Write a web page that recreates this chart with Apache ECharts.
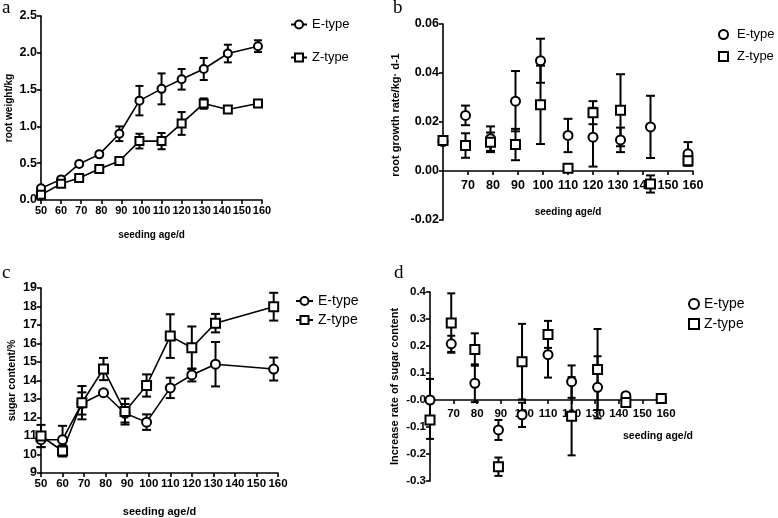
<!DOCTYPE html>
<html>
<head>
<meta charset="utf-8">
<script src="https://cdn.jsdelivr.net/npm/echarts@6/dist/echarts.min.js"></script>
<style>
html,body{margin:0;padding:0;background:#fff;}
#chart{width:778px;height:518px;}
</style>
</head>
<body>
<div id="chart"></div>
<script>
// ---- data ----
var daysA = [50, 60, 69, 79, 89, 99, 110, 120, 131, 143, 158];
var rootWeightE = [0.16, 0.28, 0.49, 0.62, 0.90, 1.35, 1.51, 1.64, 1.78, 1.99, 2.09];
var rootWeightEerr = [0.03, 0.03, 0.03, 0.03, 0.10, 0.20, 0.21, 0.14, 0.15, 0.12, 0.08];
var rootWeightZ = [0.07, 0.22, 0.30, 0.42, 0.53, 0.80, 0.80, 1.04, 1.31, 1.23, 1.31];
var rootWeightZerr = [0.03, 0.03, 0.03, 0.03, 0.03, 0.10, 0.11, 0.155, 0.07, 0.03, 0.03];

var daysB = [60, 69, 79, 89, 99, 110, 120, 131, 143, 158];
var growthE = [0.0120, 0.0227, 0.0132, 0.0285, 0.0450, 0.0145, 0.0138, 0.0127, 0.0180, 0.0070];
var growthEerr = [0.0010, 0.0040, 0.0050, 0.0123, 0.0090, 0.0068, 0.0120, 0.0050, 0.0127, 0.0048];
var growthZ = [0.0125, 0.0104, 0.0117, 0.0108, 0.0270, 0.0011, 0.0238, 0.0248, -0.0053, 0.0042];
var growthZerr = [0.0010, 0.0050, 0.0040, 0.0064, 0.0160, 0.0010, 0.0047, 0.0147, 0.0035, 0.0020];

var daysC = [50, 60, 69, 79, 89, 99, 110, 120, 131, 158];
var sugarE = [10.80, 10.80, 12.76, 13.34, 12.23, 11.75, 13.60, 14.30, 14.88, 14.62];
var sugarEerr = [0.40, 0.75, 0.60, 0.10, 0.50, 0.42, 0.55, 0.35, 1.20, 0.62];
var sugarZ = [11.00, 10.19, 12.80, 14.62, 12.32, 13.73, 16.40, 15.77, 17.10, 17.99];
var sugarZerr = [0.60, 0.30, 0.90, 0.60, 0.70, 0.60, 1.18, 1.15, 0.50, 0.75];

var daysD = [60, 69, 79, 89, 99, 110, 120, 131, 143, 158];
var rateE = [0.000, 0.208, 0.062, -0.111, -0.055, 0.168, 0.068, 0.047, 0.016, 0.006];
var rateEerr = [0.078, 0.030, 0.070, 0.037, 0.045, 0.085, 0.060, 0.115, 0.010, 0.005];
var rateZ = [-0.074, 0.285, 0.187, -0.247, 0.142, 0.243, -0.060, 0.113, -0.009, 0.006];
var rateZerr = [0.070, 0.110, 0.060, 0.034, 0.140, 0.050, 0.145, 0.150, 0.010, 0.005];

var seriesNames = ['E-type', 'Z-type'];
var panelLabels = ['a', 'b', 'c', 'd'];

// ---- helpers ----
function pts(x, y) { return x.map(function (v, i) { return [v, y[i]]; }); }
function errs(x, y, e) { return x.map(function (v, i) { return [v, y[i] - e[i], y[i] + e[i]]; }); }

function errRender(half) {
  return function (params, api) {
    var x = api.value(0), lo = api.value(1), hi = api.value(2);
    var a = api.coord([x, lo]), b = api.coord([x, hi]);
    var st = { stroke: '#000', lineWidth: 2 };
    return {
      type: 'group',
      children: [
        { type: 'line', shape: { x1: a[0], y1: a[1], x2: b[0], y2: b[1] }, style: st },
        { type: 'line', shape: { x1: a[0] - half, y1: a[1], x2: a[0] + half, y2: a[1] }, style: st },
        { type: 'line', shape: { x1: b[0] - half, y1: b[1], x2: b[0] + half, y2: b[1] }, style: st }
      ]
    };
  };
}

var SANS = "'Liberation Sans', Arial, sans-serif";
var SERIF = "'Liberation Serif', 'DejaVu Serif', serif";

function axisLine() { return { show: true, onZero: false, lineStyle: { color: '#000', width: 1.6 } }; }
function axisTick() { return { show: true, inside: false, length: 4, lineStyle: { color: '#000', width: 1.6 } }; }

function xAx(grid, min, name, size, nameSize, nameGap, offset, margin, extra) {
  var o = {
    type: 'value', gridIndex: grid, min: min, max: 160, interval: 10, offset: offset,
    name: name, nameLocation: 'middle', nameGap: nameGap,
    nameTextStyle: { fontFamily: SANS, fontWeight: 'bold', fontSize: nameSize, color: '#000' },
    axisLine: axisLine(), axisTick: axisTick(), splitLine: { show: false },
    axisLabel: { color: '#000', fontFamily: SANS, fontWeight: 'bold', fontSize: size, margin: margin,
      showMinLabel: min === 50, showMaxLabel: true, hideOverlap: false }
  };
  if (extra) { for (var k in extra) o[k] = extra[k]; }
  return o;
}
function yAx(grid, min, max, interval, dec, name, size, nameSize, nameGap, namePad, zeroText) {
  return {
    type: 'value', gridIndex: grid, min: min, max: max, interval: interval,
    name: name, nameLocation: 'middle', nameGap: nameGap,
    nameTextStyle: { fontFamily: SANS, fontWeight: 'bold', fontSize: nameSize, color: '#000', padding: namePad || 0 },
    axisLine: axisLine(), axisTick: axisTick(), splitLine: { show: false },
    axisLabel: {
      color: '#000', fontFamily: SANS, fontWeight: 'bold', fontSize: size, margin: 4,
      showMinLabel: true, showMaxLabel: true, hideOverlap: false,
      formatter: function (v) {
        if (zeroText && Math.abs(v) < 1e-9) return zeroText;
        return (+v).toFixed(dec);
      }
    }
  };
}

var markerStyle = { color: '#fff', borderColor: '#000', borderWidth: 2, opacity: 1 };

function lineSeries(name, sym, size, data, xi) {
  return {
    type: 'line', name: name, xAxisIndex: xi, yAxisIndex: xi, data: data,
    symbol: sym, symbolSize: size, showAllSymbol: true,
    lineStyle: { color: '#000', width: 1.6 }, itemStyle: markerStyle, z: 3, animation: false
  };
}
function scatterSeries(name, sym, size, data, xi) {
  return {
    type: 'scatter', name: name, xAxisIndex: xi, yAxisIndex: xi, data: data,
    symbol: sym, symbolSize: size, itemStyle: markerStyle, z: 3, animation: false
  };
}
function errSeries(id, data, xi, half) {
  return {
    type: 'custom', name: id, xAxisIndex: xi, yAxisIndex: xi, data: data,
    encode: { x: 0, y: [1, 2] }, renderItem: errRender(half), z: 2, animation: false, silent: true
  };
}

var chart = echarts.init(document.getElementById('chart'), null, { renderer: 'canvas' });

function legendText(size) { return { fontFamily: SANS, fontSize: size, color: '#000' }; }
function panelTitle(t, l, tp) {
  return { text: t, left: l, top: tp, padding: 0, textStyle: { fontFamily: SERIF, fontWeight: 'normal', fontSize: 19, color: '#000' } };
}

var option = {
  backgroundColor: '#fff',
  animation: false,
  title: [
    panelTitle(panelLabels[0], 2, -1),
    panelTitle(panelLabels[1], 393, -1),
    panelTitle(panelLabels[2], 2, 264),
    panelTitle(panelLabels[3], 394, 264)
  ],
  grid: [
    { left: 41, top: 16, width: 221, height: 184 },
    { left: 443, top: 24, width: 250, height: 196 },
    { left: 41, top: 288, width: 237, height: 188 },
    { left: 430, top: 292, width: 236, height: 189 }
  ],
  legend: [
    { data: seriesNames, orient: 'vertical', left: 290, top: 18, itemWidth: 16, itemHeight: 10, itemGap: 20, padding: 0,
      textStyle: legendText(13), selectedMode: false },
    { data: [{ name: seriesNames[0], icon: 'circle' }, { name: seriesNames[1], icon: 'rect' }], orient: 'vertical',
      left: 718, top: 28, itemWidth: 9, itemHeight: 9, itemGap: 9, padding: 0,
      itemStyle: { color: '#fff', borderColor: '#000', borderWidth: 2, opacity: 1 },
      textStyle: { fontFamily: SANS, fontSize: 13, color: '#000', padding: [0, 0, 0, 4] }, selectedMode: false },
    { data: seriesNames, orient: 'vertical', left: 295, top: 294, itemWidth: 17, itemHeight: 10, itemGap: 5, padding: 0,
      textStyle: legendText(14), selectedMode: false },
    { data: [{ name: seriesNames[0], icon: 'circle' }, { name: seriesNames[1], icon: 'rect' }], orient: 'vertical',
      left: 688, top: 297, itemWidth: 10, itemHeight: 10, itemGap: 6, padding: 0,
      itemStyle: { color: '#fff', borderColor: '#000', borderWidth: 2, opacity: 1 },
      textStyle: legendText(14), selectedMode: false }
  ],
  xAxis: [
    xAx(0, 50, 'seeding age/d', 11, 10, 30, 0, 5),
    xAx(1, 60, 'seeding age/d', 12.5, 10, 36, -49, 8),
    xAx(2, 50, 'seeding age/d', 11.5, 11, 33, 0, 5),
    xAx(3, 60, 'seeding age/d', 11.5, 10.5, 27, -81, 8, {
      nameLocation: 'end',
      nameTextStyle: { fontFamily: SANS, fontWeight: 'bold', fontSize: 10.5, color: '#000', align: 'right', verticalAlign: 'top', padding: [31, 0, 0, 0] }
    })
  ],
  yAxis: [
    yAx(0, 0, 2.5, 0.5, 1, 'root weight/kg', 12.5, 10, 27),
    yAx(1, -0.02, 0.06, 0.02, 2, 'root growth rate/kg\u00b7 d-1', 12.5, 11, 42, [0, 0, 0, 14]),
    yAx(2, 9, 19, 1, 0, 'sugar content/%', 12.5, 10.5, 23),
    yAx(3, -0.3, 0.4, 0.1, 1, 'Increase rate of sugar content', 11.5, 11, 30, 0, '-0.0')
  ],
  series: [
    errSeries('errA_E', errs(daysA, rootWeightE, rootWeightEerr), 0, 4),
    errSeries('errA_Z', errs(daysA, rootWeightZ, rootWeightZerr), 0, 4),
    lineSeries(seriesNames[0], 'circle', 8, pts(daysA, rootWeightE), 0),
    lineSeries(seriesNames[1], 'rect', 8, pts(daysA, rootWeightZ), 0),

    errSeries('errB_E', errs(daysB, growthE, growthEerr), 1, 4.5),
    errSeries('errB_Z', errs(daysB, growthZ, growthZerr), 1, 4.5),
    scatterSeries(seriesNames[0], 'circle', 9, pts(daysB, growthE), 1),
    scatterSeries(seriesNames[1], 'rect', 9, pts(daysB, growthZ), 1),

    errSeries('errC_E', errs(daysC, sugarE, sugarEerr), 2, 4.5),
    errSeries('errC_Z', errs(daysC, sugarZ, sugarZerr), 2, 4.5),
    lineSeries(seriesNames[0], 'circle', 9, pts(daysC, sugarE), 2),
    lineSeries(seriesNames[1], 'rect', 9, pts(daysC, sugarZ), 2),

    errSeries('errD_E', errs(daysD, rateE, rateEerr), 3, 4),
    errSeries('errD_Z', errs(daysD, rateZ, rateZerr), 3, 4),
    scatterSeries(seriesNames[0], 'circle', 9, pts(daysD, rateE), 3),
    scatterSeries(seriesNames[1], 'rect', 9, pts(daysD, rateZ), 3)
  ]
};
chart.setOption(option);
</script>
</body>
</html>
